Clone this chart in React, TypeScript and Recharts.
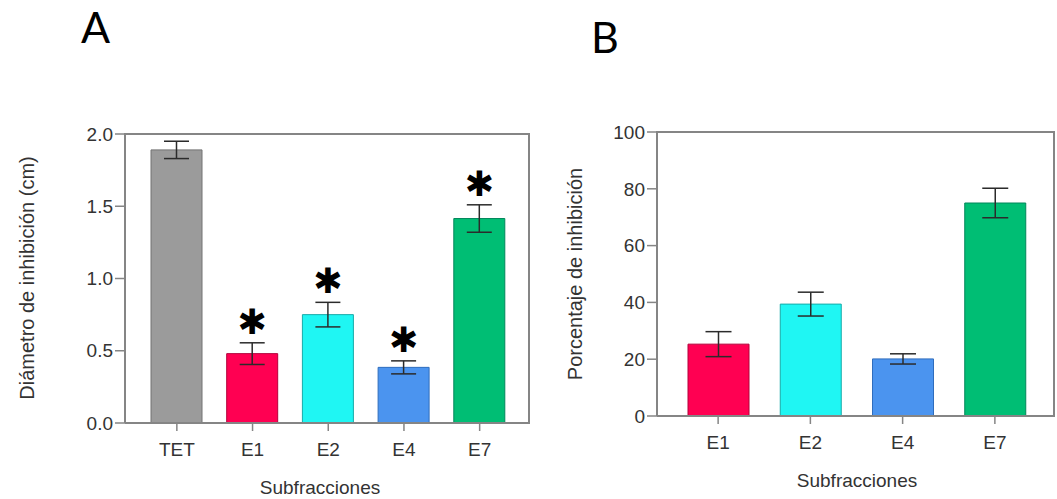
import React from 'react';
import { BarChart, Bar, XAxis, YAxis, ErrorBar, Cell, LabelList, Label } from 'recharts';

// ---------- Data (panel A) ----------
const categoriesA = ['TET', 'E1', 'E2', 'E4', 'E7'];
const diameterA = [1.89, 0.48, 0.75, 0.385, 1.415];
const errorA = [0.06, 0.075, 0.085, 0.045, 0.095];
const significantA = [false, true, true, true, true];
const ticksA = [0, 0.5, 1.0, 1.5, 2.0];

// ---------- Data (panel B) ----------
const categoriesB = ['E1', 'E2', 'E4', 'E7'];
const inhibitionB = [25.3, 39.4, 20.1, 75.0];
const errorB = [4.4, 4.2, 1.8, 5.2];
const ticksB = [0, 20, 40, 60, 80, 100];

// ---------- Styles ----------
const fillsA = ['#9b9b9b', '#ff0052', '#1ff6f3', '#4b94ef', '#00be74'];
const strokesA = ['#727272', '#b3003a', '#17aaa8', '#2f6dbd', '#00865a'];
const fillsB = fillsA.slice(1);
const strokesB = strokesA.slice(1);

const FONT = '"Liberation Sans", Arial, Helvetica, sans-serif';
const AXIS = '#858585';
const TEXT = '#333333';

// ---------- Layout (chart boxes and their plot areas) ----------
const H = 499;
const boxA = { left: 0, width: 545, axisW: 125, top: 134, right: 15, xAxisH: 76 };
const boxB = { left: 540, width: 517, axisW: 117, top: 132, right: 2, xAxisH: 83 };

const dataA = categoriesA.map((c, i) => ({ name: c, value: diameterA[i], err: errorA[i], sig: significantA[i] }));
const dataB = categoriesB.map((c, i) => ({ name: c, value: inhibitionB[i], err: errorB[i] }));

const tickStyle = { fill: TEXT, fontSize: 19, fontFamily: FONT };

function Asterisk(props: any) {
  const idx = props.index;
  const vb = props.viewBox || {};
  const x = props.x ?? vb.x;
  const y = props.y ?? vb.y;
  const w = props.width ?? vb.width;
  const h = props.height ?? vb.height;
  const v = props.value;
  if (idx == null || !dataA[idx] || !dataA[idx].sig || !v) return null;
  const pxPerUnit = Math.abs(h) / v;
  const top = y - dataA[idx].err * pxPerUnit;
  return (
    <text x={x + w / 2} y={top - 21} textAnchor="middle" dominantBaseline="central"
      fontSize={35} fontFamily='"DejaVu Sans", sans-serif' fill="#000">✱</text>
  );
}

function YTitle(text: string, cx: number, cy: number) {
  return () => (
    <text x={cx} y={cy} textAnchor="middle" dominantBaseline="central" transform={`rotate(-90 ${cx} ${cy})`}
      fill={TEXT} fontSize={20} fontFamily={FONT}>{text}</text>
  );
}

// Top and right edges of the plot frame, drawn as a bordered box over the plot area
function FrameBox({ b }: { b: typeof boxA }) {
  const x0 = b.left + b.axisW;
  const x1 = b.left + b.width - b.right;
  const y0 = b.top;
  const y1 = H - b.xAxisH;
  return (
    <div style={{
      position: 'absolute', left: x0 - 1, top: y0 - 1, width: x1 - x0 + 1, height: y1 - y0 + 1,
      borderTop: `2px solid ${AXIS}`, borderRight: `2px solid ${AXIS}`, boxSizing: 'border-box',
      pointerEvents: 'none', zIndex: 5,
    }} />
  );
}

export default function App() {
  return (
    <div style={{ position: 'absolute', left: 0, top: 0, width: 1057, height: H, background: '#fff', overflow: 'hidden' }}>
      <div style={{ position: 'absolute', left: boxA.left, top: 0 }}>
        <BarChart width={boxA.width} height={H} data={dataA}
          margin={{ top: boxA.top, right: boxA.right, bottom: 0, left: 0 }}>
          <XAxis dataKey="name" height={boxA.xAxisH} padding={{ left: 14, right: 12.5 }}
            axisLine={{ stroke: AXIS, strokeWidth: 2 }} tickLine={{ stroke: AXIS, strokeWidth: 1.5 }}
            tickSize={8} tickMargin={12} tick={tickStyle} interval={0}>
            <Label content={() => (
              <text x={320} y={487} textAnchor="middle" dominantBaseline="central" fill={TEXT} fontSize={19} fontFamily={FONT}>Subfracciones</text>
            )} />
          </XAxis>
          <YAxis width={boxA.axisW} domain={[0, 2]} ticks={ticksA} tickFormatter={(v: number) => v.toFixed(1)}
            axisLine={{ stroke: AXIS, strokeWidth: 2 }} tickLine={{ stroke: AXIS, strokeWidth: 1.5 }}
            tickSize={10} tickMargin={2} tick={tickStyle} interval={0}>
            <Label content={YTitle('Diámetro de inhibición (cm)', 27, 278)} />
          </YAxis>
          <Bar dataKey="value" barSize={51} isAnimationActive={false} strokeWidth={1}>
            {dataA.map((d, i) => <Cell key={d.name} fill={fillsA[i]} stroke={strokesA[i]} />)}
            <ErrorBar dataKey="err" width={12.5} stroke="#2b2b2b" strokeWidth={1.5} direction="y" />
            <LabelList dataKey="value" content={Asterisk} />
          </Bar>
        </BarChart>
      </div>
      <div style={{ position: 'absolute', left: boxB.left, top: 0 }}>
        <BarChart width={boxB.width} height={H} data={dataB}
          margin={{ top: boxB.top, right: boxB.right, bottom: 0, left: 0 }}>
          <XAxis dataKey="name" height={boxB.xAxisH} padding={{ left: 15, right: 14 }}
            axisLine={{ stroke: AXIS, strokeWidth: 2 }} tickLine={{ stroke: AXIS, strokeWidth: 1.5 }}
            tickSize={8} tickMargin={12} tick={tickStyle} interval={0}>
            <Label content={() => (
              <text x={317} y={480} textAnchor="middle" dominantBaseline="central" fill={TEXT} fontSize={19} fontFamily={FONT}>Subfracciones</text>
            )} />
          </XAxis>
          <YAxis width={boxB.axisW} domain={[0, 100]} ticks={ticksB}
            axisLine={{ stroke: AXIS, strokeWidth: 2 }} tickLine={{ stroke: AXIS, strokeWidth: 1.5 }}
            tickSize={10} tickMargin={2} tick={tickStyle} interval={0}>
            <Label content={YTitle('Porcentaje de inhibición', 35, 274)} />
          </YAxis>
          <Bar dataKey="value" barSize={61} isAnimationActive={false} strokeWidth={1}>
            {dataB.map((d, i) => <Cell key={d.name} fill={fillsB[i]} stroke={strokesB[i]} />)}
            <ErrorBar dataKey="err" width={13} stroke="#2b2b2b" strokeWidth={1.5} direction="y" />
          </Bar>
        </BarChart>
      </div>
      <FrameBox b={boxA} />
      <FrameBox b={boxB} />
      <svg width={1057} height={H} style={{ position: 'absolute', left: 0, top: 0, pointerEvents: 'none' }}>
        <text x={81} y={43} fontSize={43} fontFamily="Lato, 'Open Sans', sans-serif" fill="#000">A</text>
        <text x={591} y={53} fontSize={43} fontFamily="Lato, 'Open Sans', sans-serif" fill="#000">B</text>
      </svg>
    </div>
  );
}
